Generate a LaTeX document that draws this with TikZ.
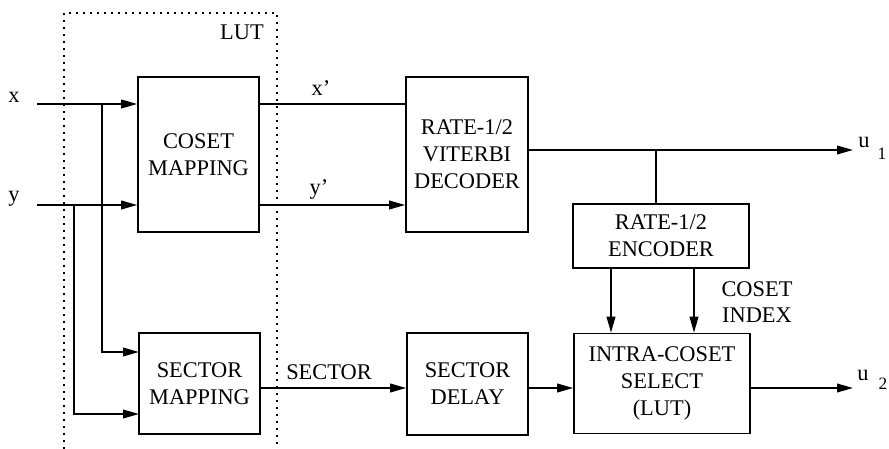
\documentclass[tikz,border=0pt]{standalone}
\usepackage{fontspec}
\setmainfont{Liberation Serif}
\usetikzlibrary{arrows.meta,calc}
\begin{document}
\begin{tikzpicture}[x=0.75pt,y=-0.75pt,
  blk/.style={draw,line width=1.2pt,inner sep=0pt,align=center,
    font=\fontsize{16.8}{20.25}\selectfont},
  lbl/.style={inner sep=0pt,align=center,font=\fontsize{16.8}{19}\selectfont},
  sub/.style={inner sep=0pt,font=\fontsize{13}{14}\selectfont},
  wire/.style={line width=1.2pt},
  arr/.style={line width=1.2pt,-{Triangle[length=12pt,width=6.5pt]}},
  lutline/.style={line width=1.4pt,dash pattern=on 1.4pt off 3.85pt}]
\useasboundingbox (0,0) rectangle (889,449);
\fill[white] (0,0) rectangle (889,449);
% LUT region
\draw[lutline] (64,449) -- (64,13) -- (277,13) -- (277,449);
\node[lbl] (lut) at (242,32) {LUT};
% blocks
\node[blk,minimum width=90.75pt,minimum height=116.25pt] (cm) at (198.5,154.5) {COSET\\MAPPING};
\node[blk,minimum width=91.5pt,minimum height=116.25pt] (vd) at (467,154.5) {RATE-1/2\\VITERBI\\DECODER};
\node[blk,minimum width=90.75pt,minimum height=75.75pt] (sm) at (199.5,383.5) {SECTOR\\MAPPING};
\node[blk,minimum width=90.75pt,minimum height=76.5pt] (sd) at (467.5,384) {SECTOR\\DELAY};
\node[blk,minimum width=132pt,minimum height=48pt] (enc) at (661,236) {RATE-1/2\\ENCODER};
\node[blk,minimum width=132pt,minimum height=75pt] (ics) at (662,383.5) {INTRA-COSET\\SELECT\\(LUT)};
% labels
\node[lbl] (xl) at (14,97) {x};
\node[lbl] (yl) at (14,199) {y};
\node[lbl] (xpl) at (321,88) {x'};
\node[lbl] (ypl) at (319,189) {y'};
\node[lbl] (secl) at (329,372) {SECTOR};
\node[lbl] (cil) at (757,302) {COSET\\INDEX};
\node[lbl] (u1) at (864,142) {u};
\node[sub] (u1s) at (882,154) {1};
\node[lbl] (u2) at (863,375) {u};
\node[sub] (u2s) at (883,384) {2};
% coordinates
\coordinate (xin) at (37,104);
\coordinate (yin) at (37,205);
\coordinate (xb) at (102,104);
\coordinate (yb) at (74,205);
\coordinate (sm1) at (139,352);
\coordinate (sm2) at (139,414);
\coordinate (o1) at (853,150);
\coordinate (br) at (656,150);
\coordinate (o2) at (853,388);
\coordinate (ea) at (611,268);
\coordinate (eb) at (694,268);
% connectors
\draw[arr] (xin) -- (xin -| cm.west);
\draw[arr] (yin) -- (yin -| cm.west);
\draw[arr] (xb) |- (sm1);
\draw[arr] (yb) |- (sm2);
\draw[wire] (cm.east |- xin) -- (vd.west |- xin);
\draw[arr] (cm.east |- yin) -- (vd.west |- yin);
\draw[arr] (vd.east |- o1) -- (o1);
\draw[wire] (br) -- (br |- enc.north);
\draw[arr] (ea) -- (ea |- ics.north);
\draw[arr] (eb) -- (eb |- ics.north);
\draw[arr] (sm.east |- o2) -- (sd.west |- o2);
\draw[arr] (sd.east |- o2) -- (ics.west |- o2);
\draw[arr] (ics.east |- o2) -- (o2);
\end{tikzpicture}
\end{document}
